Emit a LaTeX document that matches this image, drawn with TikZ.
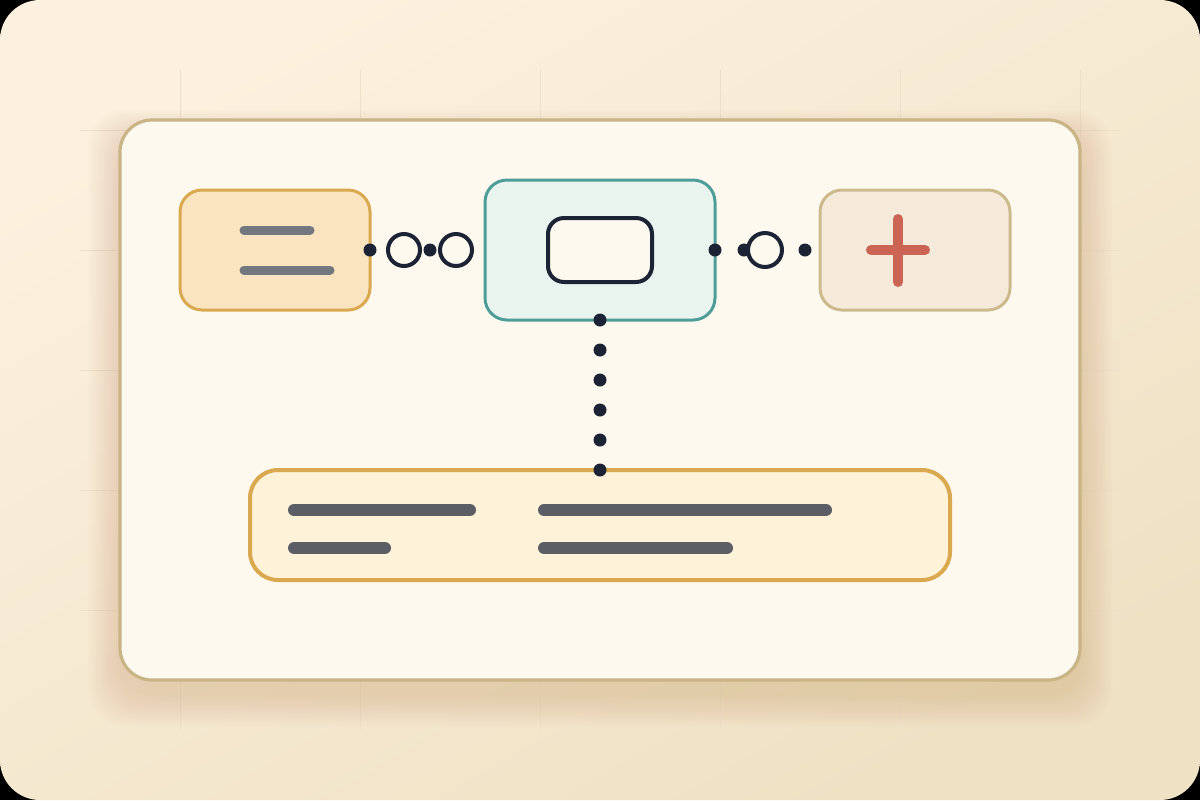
\documentclass[tikz,border=0pt]{standalone}
\usetikzlibrary{positioning}
\definecolor{bgA}{HTML}{FBF1DE}
\definecolor{bgB}{HTML}{EFE1C4}
\definecolor{gridc}{HTML}{ECE0C8}
\definecolor{cardfill}{HTML}{FEF9EE}
\definecolor{cardline}{HTML}{C9B486}
\definecolor{shadowc}{HTML}{B8955E}
\definecolor{lfill}{HTML}{F9E4BF}
\definecolor{gold}{HTML}{D9A84F}
\definecolor{grayl}{HTML}{737780}
\definecolor{cfill}{HTML}{EAF4EF}
\definecolor{teal}{HTML}{4E9D98}
\definecolor{ink}{HTML}{1B2335}
\definecolor{rfill}{HTML}{F5E9DA}
\definecolor{rline}{HTML}{CDBA8C}
\definecolor{plusc}{HTML}{CC6454}
\definecolor{bfill}{HTML}{FEF3D9}
\definecolor{darkl}{HTML}{5B5E64}
\tikzset{
  box/.style={rectangle, inner sep=0pt, outer sep=0pt},
  dotn/.style={circle, fill=ink, inner sep=0pt, minimum size=6.5pt},
  ringn/.style={circle, draw=ink, line width=2pt, fill=cardfill, inner sep=0pt, minimum size=16pt},
  bar/.style={line width=4.5pt, line cap=round},
}
\begin{document}
\begin{tikzpicture}[x=0.5pt,y=-0.5pt]
\useasboundingbox (0,0) rectangle (1200,800);
% frame corners
\fill[black] (0,0) rectangle (1200,800);
\shade[top color=bgA, bottom color=bgB, shading angle=30, rounded corners=20pt] (0,0) rectangle (1200,800);
% grid
\foreach \gx in {180,360,540,720,900,1080} \draw[gridc, line width=0.5pt] (\gx,70) -- (\gx,730);
\foreach \gy in {130,250,370,490,610} \draw[gridc, line width=0.5pt] (80,\gy) -- (1120,\gy);
% shadow
\foreach \k in {1,...,16}
  \fill[shadowc, opacity=0.016, rounded corners=18pt] (120-2*\k,134-1.5*\k) rectangle (1080+2*\k,694+2*\k);
% card
\node[box, draw=cardline, fill=cardfill, line width=1.6pt, rounded corners=16pt,
      minimum width=480pt, minimum height=280pt] (card) at (600,400) {};
% left box
\node[box, draw=gold, fill=lfill, line width=1.5pt, rounded corners=11pt,
      minimum width=95pt, minimum height=60pt] (left) at (275,250) {};
\draw[grayl, bar] (244,230) coordinate (l1a) -- (310,230) coordinate (l1b);
\draw[grayl, bar] (244,270) coordinate (l2a) -- (330,270) coordinate (l2b);
% center box
\node[box, draw=teal, fill=cfill, line width=1.5pt, rounded corners=11pt,
      minimum width=115pt, minimum height=70pt] (center) at (600,250) {};
\node[box, draw=ink, fill=cardfill, line width=2pt, rounded corners=8pt,
      minimum width=52pt, minimum height=32pt] (inner) at (600,250) {};
% right box
\node[box, draw=rline, fill=rfill, line width=1.5pt, rounded corners=11pt,
      minimum width=95pt, minimum height=60pt] (right) at (915,250) {};
\draw[plusc, line width=5pt, line cap=round] (871,250) coordinate (pl) -- (925,250) coordinate (pr);
\draw[plusc, line width=5pt, line cap=round] (898,219) coordinate (pt) -- (898,282) coordinate (pb);
% bottom box
\node[box, draw=gold, fill=bfill, line width=2pt, rounded corners=14pt,
      minimum width=350pt, minimum height=55pt] (bottom) at (600,525) {};
\draw[darkl, bar, line width=6pt] (294,510) coordinate (b1) -- (470,510) coordinate (b2);
\draw[darkl, bar, line width=6pt] (544,510) coordinate (b3) -- (826,510) coordinate (b4);
\draw[darkl, bar, line width=6pt] (294,548) coordinate (b5) -- (385,548) coordinate (b6);
\draw[darkl, bar, line width=6pt] (544,548) coordinate (b7) -- (727,548) coordinate (b8);
% left connector chain
\node[dotn] (d1) at (left.east) {};
\node[ringn] (r1) at (404,250) {};
\node[ringn] (r2) at (456,250) {};
\node[dotn] (d2) at (430,250) {};
% right connector chain
\node[dotn] (d3) at (center.east) {};
\node[dotn] (d4) at (744,250) {};
\node[ringn, minimum size=17pt] (r3) at (765,250) {};
\node[dotn] (d5) at (805,250) {};
% vertical connector
\node[dotn] (v0) at (center.south) {};
\foreach \i/\yy in {1/350,2/380,3/410,4/440} \node[dotn] (v\i) at (600,\yy) {};
\node[dotn] (v5) at (bottom.north) {};
\end{tikzpicture}
\end{document}
